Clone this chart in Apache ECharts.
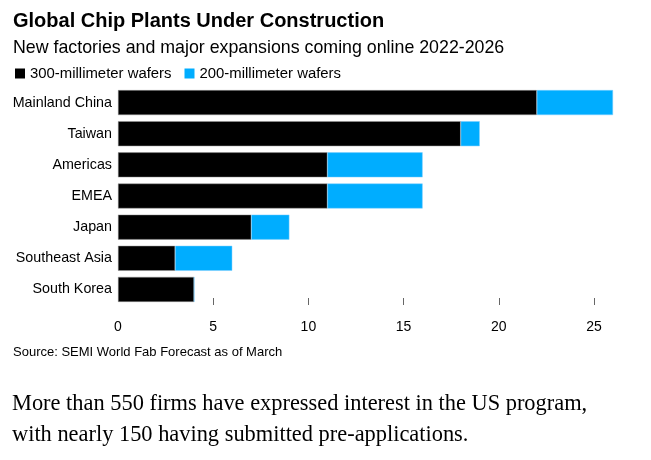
<!DOCTYPE html>
<html><head><meta charset="utf-8">
<script src="https://cdn.jsdelivr.net/npm/echarts@6/dist/echarts.min.js"></script>
<style>html,body{margin:0;padding:0;background:#fff}#c{width:651px;height:460px}</style>
</head><body><div id="c"></div>
<script>
const categories = ["Mainland China","Taiwan","Americas","EMEA","Japan","Southeast Asia","South Korea"];
const wafers300 = [22,18,11,11,7,3,4];
const wafers200 = [4,1,5,5,2,3,0];
const tickLabels = [0,5,10,15,20,25];
const tickMarks = [5,10,15,20,25];

const chart = echarts.init(document.getElementById('c'), null, {renderer:'canvas'});
const F = 'Liberation Sans, Arial, Helvetica, sans-serif';
chart.setOption({
  animation:false,
  backgroundColor:'#fff',
  title:[
    {text:'Global Chip Plants Under Construction', left:8, top:6, textStyle:{fontFamily:F,fontSize:20,fontWeight:'bold',color:'#000'}},
    {text:'New factories and major expansions coming online 2022-2026', left:8, top:34, textStyle:{fontFamily:F,fontSize:17.8,fontWeight:'normal',color:'#000'}},
    {text:'Source: SEMI World Fab Forecast as of March', left:8, top:341, textStyle:{fontFamily:F,fontSize:13,fontWeight:'normal',color:'#000'}},
    {text:'More than 550 firms have expressed interest in the US program,\nwith nearly 150 having submitted pre-applications.', left:7, top:384,
     textStyle:{fontFamily:'Liberation Serif, DejaVu Serif, serif',fontSize:22.4,fontWeight:'normal',color:'#000',lineHeight:31}}
  ],
  legend:{left:10, top:61, itemWidth:10, itemHeight:10, itemGap:13, icon:'rect',
    itemStyle:{borderWidth:0},
    textStyle:{fontFamily:F,fontSize:14.9,color:'#000',padding:[0,0,0,0]},
    data:['300-millimeter wafers','200-millimeter wafers']},
  grid:{left:118, top:87, width:495, height:218, containLabel:false},
  xAxis:{type:'value', min:0, max:26, interval:5,
    splitLine:{show:false}, axisLine:{show:false},
    axisTick:{show:true, inside:true, length:7, lineStyle:{color:'#666'}, customValues:tickMarks},
    axisLabel:{fontFamily:F,fontSize:14,color:'#000',margin:15, customValues:tickLabels}},
  yAxis:{type:'category', data:categories, inverse:true,
    axisLine:{show:false}, axisTick:{show:false},
    axisLabel:{fontFamily:F,fontSize:14.3,color:'#000',margin:6}},
  series:[
    {name:'300-millimeter wafers', type:'bar', stack:'t', data:wafers300, barWidth:25, itemStyle:{color:'#000', borderColor:'#999', borderWidth:0.5}},
    {name:'200-millimeter wafers', type:'bar', stack:'t', data:wafers200, barWidth:25, itemStyle:{color:'#00adff', borderColor:'#7fcfff', borderWidth:0.5}}
  ]
});
</script></body></html>
